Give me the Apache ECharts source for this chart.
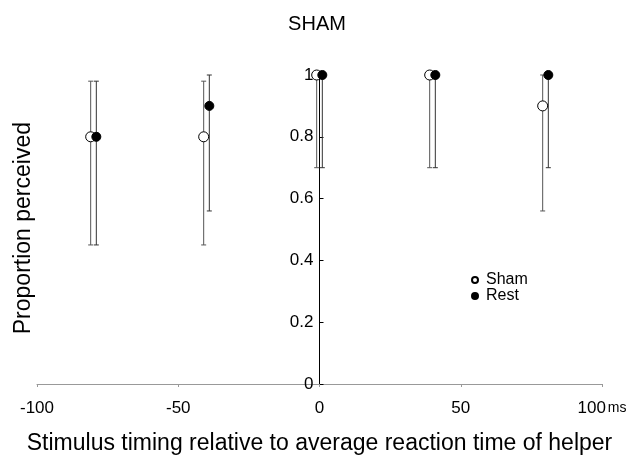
<!DOCTYPE html>
<html>
<head>
<meta charset="utf-8">
<script src="https://cdn.jsdelivr.net/npm/echarts@6/dist/echarts.min.js"></script>
<style>
  html, body { margin: 0; padding: 0; background: #fff; }
  #chart { width: 634px; height: 460px; }
</style>
</head>
<body>
<div id="chart"></div>
<script>
// 数据
const xTicks = [-100, -50, 0, 50, 100];
const yTicks = [0, 0.2, 0.4, 0.6, 0.8, 1];

// Sham 条件
const shamX = [-81, -41, -1, 39, 79];
const shamMean = [0.8, 0.8, 1, 1, 0.9];
const shamLow = [0.45, 0.45, 0.70, 0.70, 0.56];
const shamHigh = [0.98, 0.98, 1, 1, 1];

// Rest 条件
const restX = [-79, -39, 1, 41, 81];
const restMean = [0.8, 0.9, 1, 1, 1];
const restLow = [0.45, 0.56, 0.70, 0.70, 0.70];
const restHigh = [0.98, 1, 1, 1, 1];

const FONT = 'Liberation Sans, Arial, sans-serif';
const GRID_LEFT = 37, GRID_RIGHT = 32;

// 误差线
function errorBarSeries(xs, lows, highs, color) {
    return {
        type: 'custom',
        silent: true,
        z: 1,
        data: xs.map((x, i) => [x, lows[i], highs[i]]),
        renderItem: function (params, api) {
            const x = api.value(0);
            const lo = api.coord([x, api.value(1)]);
            const hi = api.coord([x, api.value(2)]);
            const w = 2.5;
            const style = { stroke: color, lineWidth: 1 };
            return {
                type: 'group',
                children: [
                    { type: 'line', shape: { x1: lo[0], y1: lo[1], x2: hi[0], y2: hi[1] }, style: style },
                    { type: 'line', shape: { x1: lo[0] - w, y1: lo[1], x2: lo[0] + w, y2: lo[1] }, style: style },
                    { type: 'line', shape: { x1: hi[0] - w, y1: hi[1], x2: hi[0] + w, y2: hi[1] }, style: style }
                ]
            };
        }
    };
}

// y 轴放在 x=0 处：按网格宽度计算偏移
const plotWidth = 634 - GRID_LEFT - GRID_RIGHT;
const yAxisOffset = -plotWidth * (0 - xTicks[0]) / (xTicks[xTicks.length - 1] - xTicks[0]);

const option = {
    animation: false,
    backgroundColor: '#fff',
    textStyle: { fontFamily: FONT },
    title: {
        text: 'SHAM',
        left: 'center',
        top: 9,
        textStyle: { fontFamily: FONT, fontSize: 20, fontWeight: 'normal', color: '#000' }
    },
    legend: {
        orient: 'vertical',
        left: 466,
        top: 267,
        itemWidth: 6,
        itemHeight: 6,
        itemGap: 0,
        textStyle: { fontFamily: FONT, fontSize: 16, color: '#000', lineHeight: 14, padding: [0, 0, 0, 3] },
        data: [
            { name: 'Sham', icon: 'circle' },
            { name: 'Rest', icon: 'circle' }
        ]
    },
    graphic: [{
        type: 'text',
        left: 12,
        top: 122,
        rotation: Math.PI / 2,
        style: {
            text: 'Proportion perceived',
            fontFamily: FONT,
            fontSize: 23,
            fill: '#000'
        }
    }],
    grid: { left: GRID_LEFT, right: GRID_RIGHT, top: 75, bottom: 72 },
    xAxis: {
        type: 'value',
        min: xTicks[0],
        max: xTicks[xTicks.length - 1],
        interval: 50,
        name: 'Stimulus timing relative to average reaction time of helper',
        nameLocation: 'middle',
        nameGap: 48,
        nameTextStyle: { fontFamily: FONT, fontSize: 23, color: '#000' },
        axisLine: { onZero: false, lineStyle: { color: '#999', width: 1 } },
        axisTick: { show: true, length: 3, lineStyle: { color: '#999' } },
        splitLine: { show: false },
        axisLabel: {
            fontFamily: FONT,
            fontSize: 17,
            color: '#000',
            margin: 16,
            showMinLabel: true,
            showMaxLabel: true,
            formatter: function (v) {
                return v === 100 ? '100{ms|ms}' : String(v);
            },
            rich: { ms: { fontFamily: FONT, fontSize: 14, color: '#000', padding: [0, 0, 0, 2] } }
        }
    },
    yAxis: {
        type: 'value',
        min: yTicks[0],
        max: yTicks[yTicks.length - 1],
        interval: 0.2,
        offset: yAxisOffset,
        axisLine: { show: true, onZero: false, lineStyle: { color: '#000', width: 1 } },
        axisTick: { show: true, inside: true, length: 4, lineStyle: { color: '#000' } },
        splitLine: { show: false },
        axisLabel: {
            fontFamily: FONT,
            fontSize: 17,
            color: '#000',
            margin: 6
        }
    },
    series: [
        errorBarSeries(shamX, shamLow, shamHigh, '#555'),
        errorBarSeries(restX, restLow, restHigh, '#333'),
        {
            name: 'Sham',
            type: 'scatter',
            z: 3,
            clip: false,
            symbol: 'circle',
            symbolSize: 10,
            itemStyle: { color: '#fff', borderColor: '#000', borderWidth: 1, opacity: 1 },
            data: shamX.map((x, i) => [x, shamMean[i]])
        },
        {
            name: 'Rest',
            type: 'scatter',
            z: 4,
            clip: false,
            symbol: 'circle',
            symbolSize: 9,
            itemStyle: { color: '#000', borderColor: '#000', borderWidth: 1, opacity: 1 },
            data: restX.map((x, i) => [x, restMean[i]])
        }
    ]
};

const myChart = echarts.init(document.getElementById('chart'));
myChart.setOption(option);
</script>
</body>
</html>
